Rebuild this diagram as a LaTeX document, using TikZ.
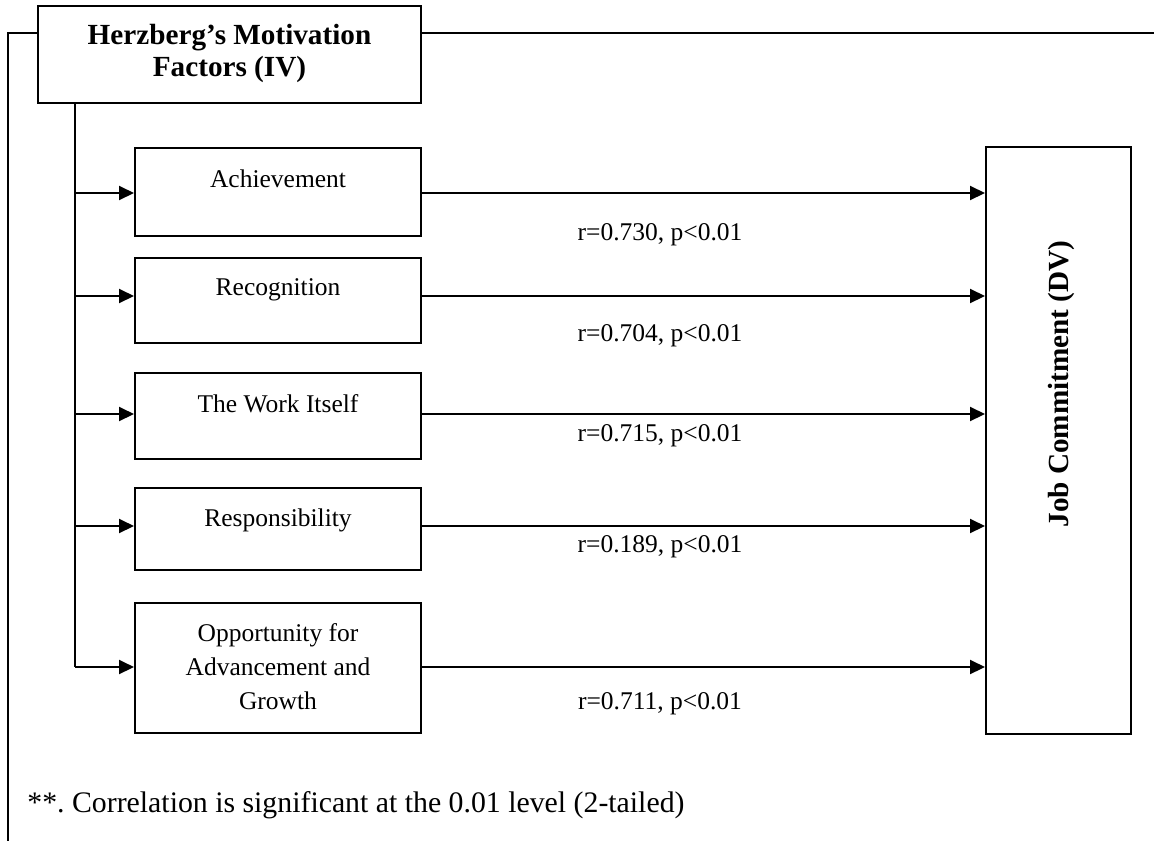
\documentclass[tikz,border=0pt]{standalone}
\usepackage{fontspec}
\setmainfont{Liberation Serif}
\usetikzlibrary{arrows.meta}
\begin{document}
\frenchspacing
\begin{tikzpicture}[x=0.5pt,y=-0.5pt,
  box/.style={draw, line width=1pt, rectangle, inner sep=0pt},
  wire/.style={line width=1pt},
  arr/.style={wire, -{Triangle[length=7.5pt,width=7pt]}},
  txt/.style={font=\fontsize{12.75}{17}\selectfont, inner sep=0pt, anchor=base},
  btxt/.style={font=\fontsize{14.6}{16}\bfseries\selectfont, inner sep=0pt},
  ftxt/.style={font=\fontsize{14.9}{17}\selectfont, inner sep=0pt, anchor=base west},
]
\useasboundingbox (0,0) rectangle (1154,841);

% boxes
\node[box, minimum width=191.5pt, minimum height=48.5pt] (hd) at (229.5,54.5) {};
\node[box, minimum width=143pt, minimum height=44pt]   (a1) at (278,192) {};
\node[box, minimum width=143pt, minimum height=42.5pt] (a2) at (278,300.5) {};
\node[box, minimum width=143pt, minimum height=43pt]   (a3) at (278,416) {};
\node[box, minimum width=143pt, minimum height=41pt]   (a4) at (278,529) {};
\node[box, minimum width=143pt, minimum height=65pt]   (a5) at (278,668) {};
\node[box, minimum width=72.5pt, minimum height=293.5pt] (jc) at (1058.5,440.5) {};

% texts
\node[btxt, align=center] (hdt) at (229.5,53) {Herzberg’s Motivation\\Factors (IV)};
\node[txt] (a1t) at (278,187) {Achievement};
\node[txt] (a2t) at (278,295) {Recognition};
\node[txt] (a3t) at (278,412) {The Work Itself};
\node[txt] (a4t) at (278,526) {Responsibility};
\node[txt, anchor=center, align=center] (a5t) at (278,667) {Opportunity for\\Advancement and\\Growth};
\node[btxt, rotate=90, anchor=center] (jct) at (1061,384) {Job Commitment (DV)};

% outer frame lines
\coordinate (lt) at (8,33);
\coordinate (lb) at (8,841);
\coordinate (rt) at (1154,33);
\draw[wire] (lt -| hd.west) -- (lt) -- (lb);
\draw[wire] (rt -| hd.east) -- (rt);

% trunk and branch arrows
\coordinate (t1) at (75,193);
\coordinate (t2) at (75,296);
\coordinate (t3) at (75,414);
\coordinate (t4) at (75,526);
\coordinate (t5) at (75,667);
\draw[wire] (hd.south -| t1) -- (t5);
\foreach \i in {1,...,5}{
  \draw[arr] (t\i) -- (t\i -| a\i.west);
  \draw[arr] (t\i -| a\i.east) -- (t\i -| jc.west);
}

% correlation labels
\node[txt] (l1) at (660,240) {r=0.730, p<0.01};
\node[txt] (l2) at (660,341) {r=0.704, p<0.01};
\node[txt] (l3) at (660,441) {r=0.715, p<0.01};
\node[txt] (l4) at (660,552) {r=0.189, p<0.01};
\node[txt] (l5) at (660,709) {r=0.711, p<0.01};

% footnote
\node[ftxt] (fn) at (27,812) {**. Correlation is significant at the 0.01 level (2-tailed)};
\end{tikzpicture}
\end{document}
